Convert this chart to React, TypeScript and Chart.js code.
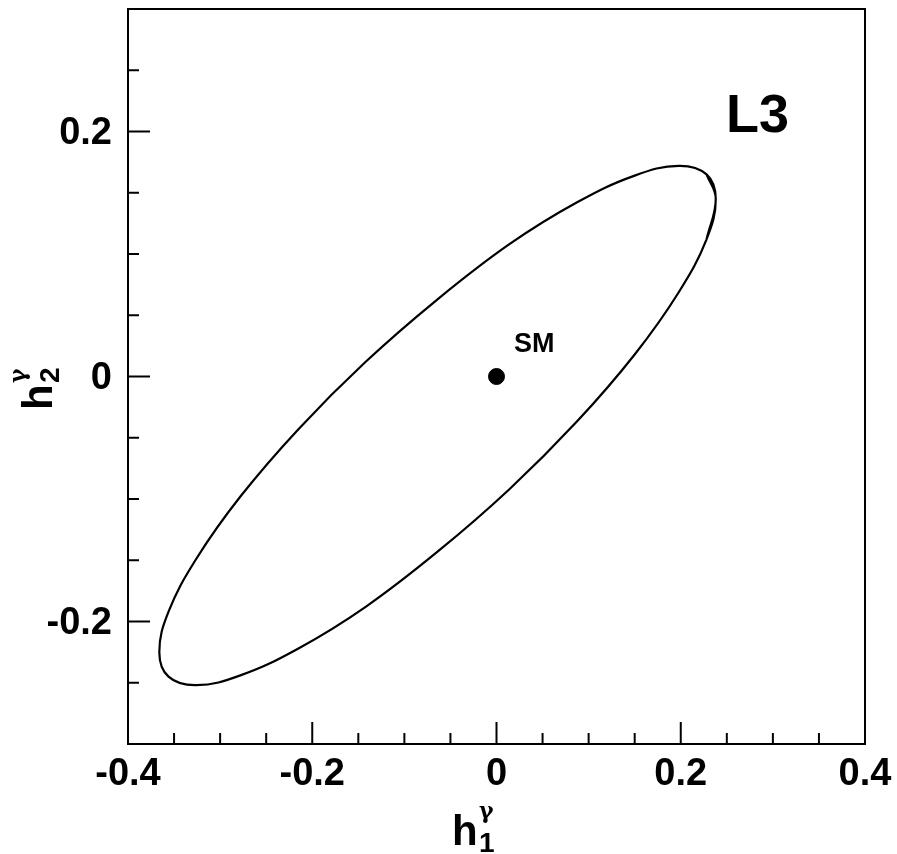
import React, { useEffect, useRef } from "react";
import { Chart, registerables } from "chart.js";
Chart.register(...registerables);

const ellipseX = [0.228, 0.238, 0.228, 0.198, 0.150, 0.087, 0.014, -0.064, -0.142, -0.215, -0.278, -0.326, -0.356, -0.366, -0.356, -0.326, -0.278, -0.215, -0.142, -0.064, 0.014, 0.087, 0.150, 0.198, 0.228, 0.238, 0.228];
const ellipseY = [0.112, 0.145, 0.165, 0.172, 0.164, 0.142, 0.108, 0.063, 0.012, -0.043, -0.098, -0.149, -0.192, -0.225, -0.245, -0.252, -0.244, -0.222, -0.188, -0.143, -0.092, -0.037, 0.018, 0.069, 0.112, 0.145, 0.165];
const smPoint = { x: 0, y: 0 };
const xLabels = [-0.4, -0.2, 0, 0.2, 0.4];
const yLabels = [-0.2, 0, 0.2];

const FONT = "'Liberation Sans', Arial, sans-serif";
const fmt = (v: number) => (v === 0 ? "0" : v.toFixed(1));

export default function App() {
  const ref = useRef<HTMLCanvasElement>(null);
  useEffect(() => {
    const deco = {
      id: "deco",
      afterDraw(chart: any) {
        const { ctx, chartArea: a, scales } = chart;
        const xs = scales.x, ys = scales.y;
        ctx.save();
        ctx.strokeStyle = "#000";
        ctx.lineWidth = 2;
        ctx.strokeRect(a.left, a.top, a.right - a.left, a.bottom - a.top);
        for (let i = -8; i <= 8; i++) {
          const big = i % 4 === 0;
          const px = xs.getPixelForValue(i * 0.05);
          ctx.beginPath(); ctx.moveTo(px, a.bottom); ctx.lineTo(px, a.bottom - (big ? 22 : 11)); ctx.stroke();
        }
        for (let i = -6; i <= 6; i++) {
          const big = i % 4 === 0;
          const py = ys.getPixelForValue(i * 0.05);
          ctx.beginPath(); ctx.moveTo(a.left, py); ctx.lineTo(a.left + (big ? 22 : 11), py); ctx.stroke();
        }
        ctx.fillStyle = "#000";
        ctx.font = `bold 38px ${FONT}`;
        ctx.textAlign = "center";
        ctx.textBaseline = "top";
        xLabels.forEach((v) => ctx.fillText(fmt(v), xs.getPixelForValue(v), a.bottom + 12));
        ctx.textAlign = "right";
        ctx.textBaseline = "middle";
        yLabels.forEach((v) => ctx.fillText(fmt(v), a.left - 16, ys.getPixelForValue(v) + 2));
        ctx.textAlign = "left";
        ctx.textBaseline = "alphabetic";
        ctx.font = `bold 54px ${FONT}`;
        ctx.fillText("L3", 726, 132);
        ctx.font = `bold 27px ${FONT}`;
        ctx.fillText("SM", 514, 352);
        ctx.font = `bold 42px ${FONT}`;
        ctx.fillText("h", 452, 845);
        ctx.font = `bold 28px ${FONT}`;
        ctx.fillText("1", 479, 852);
        ctx.font = `bold 22px 'DejaVu Serif', serif`;
        ctx.fillText("γ", 479, 818);
        ctx.translate(52, 410);
        ctx.rotate(-Math.PI / 2);
        ctx.font = `bold 42px ${FONT}`;
        ctx.fillText("h", 0, 0);
        ctx.font = `bold 28px ${FONT}`;
        ctx.fillText("2", 27, 7);
        ctx.font = `bold 22px 'DejaVu Serif', serif`;
        ctx.fillText("γ", 27, -27);
        ctx.restore();
      },
    };
    const chart = new Chart(ref.current!, {
      type: "scatter",
      data: {
        datasets: [
          {
            data: ellipseX.map((x, i) => ({ x, y: ellipseY[i] })),
            showLine: true,
            tension: 0.4,
            borderColor: "#000",
            borderWidth: 2.2,
            pointRadius: 0,
            fill: false,
          } as any,
          {
            data: [smPoint],
            pointRadius: 8,
            backgroundColor: "#000",
            borderColor: "#000",
          },
        ],
      },
      options: {
        animation: false,
        responsive: false,
        layout: { padding: { left: 8, right: 32, top: 8, bottom: 0 } },
        plugins: { legend: { display: false }, tooltip: { enabled: false } },
        scales: {
          x: {
            min: -0.4, max: 0.4,
            afterFit: (s: any) => { s.height = 110; },
            grid: { display: false },
            border: { display: false },
            ticks: { display: false },
          },
          y: {
            min: -0.3, max: 0.3,
            afterFit: (s: any) => { s.width = 120; },
            grid: { display: false },
            border: { display: false },
            ticks: { display: false },
          },
        },
      } as any,
      plugins: [deco],
    });
    return () => chart.destroy();
  }, []);
  return (
    <div style={{ position: "absolute", left: 0, top: 0, width: 897, height: 854, background: "#fff" }}>
      <canvas ref={ref} width={897} height={854} />
    </div>
  );
}
